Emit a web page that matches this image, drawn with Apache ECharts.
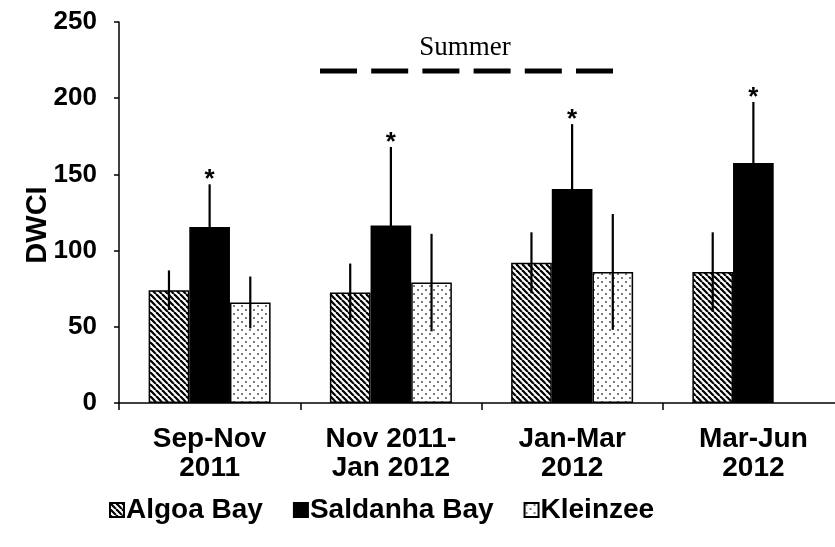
<!DOCTYPE html>
<html>
<head>
<meta charset="utf-8">
<script src="https://cdn.jsdelivr.net/npm/echarts@6/dist/echarts.min.js"></script>
<style>
  html, body { margin: 0; padding: 0; background: #ffffff; }
  #chart { width: 835px; height: 547px; }
</style>
</head>
<body>
<div id="chart"></div>
<script>
// Sampling periods (x categories)
const categories = ['Sep-Nov\n2011', 'Nov 2011-\nJan 2012', 'Jan-Mar\n2012', 'Mar-Jun\n2012'];
const seriesNames = ['Algoa Bay', 'Saldanha Bay', 'Kleinzee'];

// Mean DWCI per site and period, with error (SD)
const algoaBay = [74, 72.5, 92, 86];
const algoaBayErr = [13, 19, 20, 26];
const saldanhaBay = [115.5, 116.5, 140.5, 157.5];
const saldanhaBayErr = [28, 51.5, 42.5, 40];
const kleinzee = [66, 79, 86, null];
const kleinzeeErr = [17, 32, 38, null];

// Periods where Saldanha Bay differs significantly
const saldanhaStar = [true, true, true, true];

// Y axis scale
const yMin = 0, yMax = 250, yStep = 50;
const summerLabel = 'Summer';

const FONT = '"Liberation Sans", Arial, sans-serif';
const CAT_GAP = 0.327;

function stripePattern() {
  const s = 6;
  const c = document.createElement('canvas');
  c.width = s; c.height = s;
  const ctx = c.getContext('2d');
  ctx.fillStyle = '#ffffff';
  ctx.fillRect(0, 0, s, s);
  ctx.strokeStyle = '#000000';
  ctx.lineWidth = 2.2;
  for (const k of [-s, 0, s]) {
    ctx.beginPath();
    ctx.moveTo(k, 0);
    ctx.lineTo(k + s, s);
    ctx.stroke();
  }
  return c;
}

function dotPattern() {
  const s = 8;
  const c = document.createElement('canvas');
  c.width = s; c.height = s;
  const ctx = c.getContext('2d');
  ctx.fillStyle = '#ffffff';
  ctx.fillRect(0, 0, s, s);
  ctx.fillStyle = '#444444';
  for (const [x, y] of [[2, 2], [6, 6]]) {
    ctx.beginPath();
    ctx.arc(x, y, 0.95, 0, Math.PI * 2);
    ctx.fill();
  }
  return c;
}

const fills = [
  { image: stripePattern(), repeat: 'repeat' },
  '#000000',
  { image: dotPattern(), repeat: 'repeat' }
];

const means = [algoaBay, saldanhaBay, kleinzee];
const errs = [algoaBayErr, saldanhaBayErr, kleinzeeErr];

// error bar items: [category, mean, err, group, star]
const errItems = [];
means.forEach((arr, g) => {
  arr.forEach((v, i) => {
    if (v == null) return;
    const star = (g === 1 && saldanhaStar[i]) ? 1 : 0;
    errItems.push([i, v, errs[g][i], g, star]);
  });
});

const barSeries = seriesNames.map((name, g) => ({
  name: name,
  type: 'bar',
  data: means[g],
  barGap: 0,
  barCategoryGap: (CAT_GAP * 100) + '%',
  itemStyle: { color: fills[g], borderColor: '#000000', borderWidth: 1.5 },
  emphasis: { disabled: true },
  animation: false
}));

const errSeries = {
  type: 'custom',
  data: errItems,
  silent: true,
  animation: false,
  z: 5,
  renderItem: function (params, api) {
    const ci = api.value(0), mean = api.value(1), err = api.value(2), g = api.value(3), star = api.value(4);
    const band = api.size([1, 0])[0];
    const bw = band * (1 - CAT_GAP) / 3;
    const cx = api.coord([ci, 0])[0] + (g - 1) * bw;
    const top = api.coord([ci, mean + err])[1];
    const bot = api.coord([ci, mean - err])[1];
    const children = [{
      type: 'line',
      shape: { x1: cx, y1: bot, x2: cx, y2: top },
      style: { stroke: '#000000', lineWidth: 2.2 }
    }];
    if (star) {
      children.push({
        type: 'text',
        style: {
          x: cx, y: top - 4, text: '*',
          font: 'bold 26px ' + FONT,
          fill: '#000000', align: 'center', verticalAlign: 'middle'
        }
      });
    }
    return { type: 'group', children: children };
  }
};

const chart = echarts.init(document.getElementById('chart'), null, { renderer: 'canvas' });
chart.setOption({
  animation: false,
  backgroundColor: '#ffffff',
  grid: { left: 119, right: -9, top: 22, bottom: 144, containLabel: false, outerBoundsMode: 'none' },
  legend: {
    data: seriesNames,
    left: 104, top: 491,
    icon: 'rect',
    itemWidth: 14, itemHeight: 14,
    itemGap: 30,
    textStyle: { fontFamily: FONT, fontWeight: 'bold', fontSize: 28, color: '#000000', padding: [0, 0, 0, -3] },
    selectedMode: false
  },
  xAxis: {
    type: 'category',
    data: categories,
    axisLine: { lineStyle: { color: '#000000', width: 1.5 } },
    axisTick: { show: true, alignWithLabel: false, length: 7, lineStyle: { color: '#000000', width: 1.5 } },
    axisLabel: { fontFamily: FONT, fontWeight: 'bold', fontSize: 28, lineHeight: 29, color: '#000000', margin: 22, interval: 0 },
    splitLine: { show: false }
  },
  yAxis: {
    type: 'value',
    min: yMin, max: yMax, interval: yStep,
    axisLine: { show: true, lineStyle: { color: '#000000', width: 1.5 } },
    axisTick: { show: true, length: 5, lineStyle: { color: '#000000', width: 1.5 } },
    axisLabel: { fontFamily: FONT, fontWeight: 'bold', fontSize: 26, color: '#000000', margin: 22 },
    splitLine: { show: false }
  },
  graphic: [
    {
      type: 'text',
      x: 38, y: 225, rotation: Math.PI / 2,
      style: { x: 0, y: 0, text: 'DWCI', font: 'bold 29px ' + FONT, fill: '#000000', align: 'center', verticalAlign: 'middle' }
    },
    {
      type: 'text',
      style: { x: 465, y: 48, text: summerLabel, font: '27px "Liberation Serif", "Times New Roman", serif', fill: '#000000', align: 'center', verticalAlign: 'middle' }
    },
    {
      type: 'line',
      shape: { x1: 320, y1: 71, x2: 613, y2: 71 },
      style: { stroke: '#000000', lineWidth: 5, lineDash: [37, 14.2] }
    }
  ],
  series: barSeries.concat([errSeries])
});
</script>
</body>
</html>
